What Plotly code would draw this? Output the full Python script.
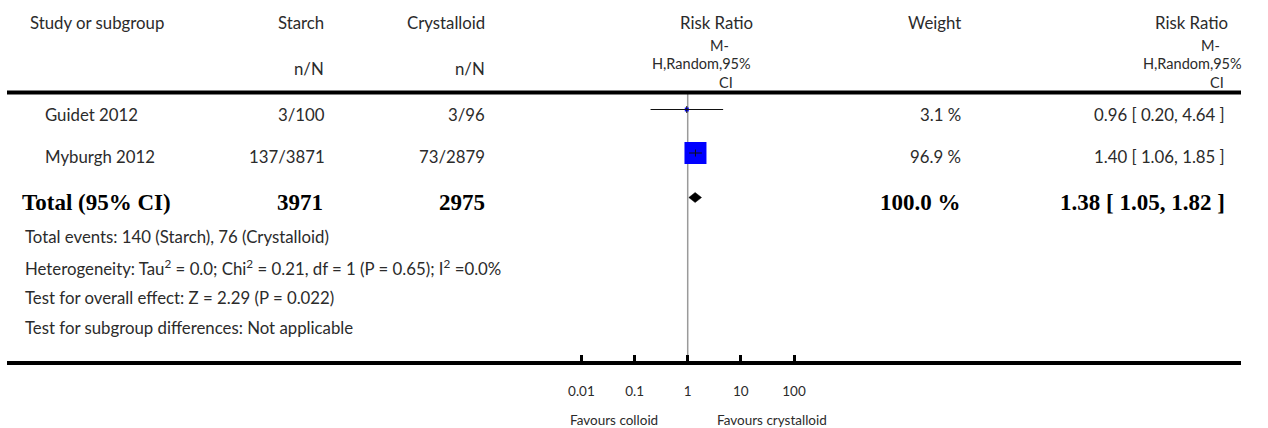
import plotly.graph_objects as go

# ---------------- data ----------------
studies = ["Guidet 2012", "Myburgh 2012"]
starch_events = [3, 137]
starch_total = [100, 3871]
cryst_events = [3, 73]
cryst_total = [96, 2879]
rr = [0.96, 1.40]
rr_low = [0.20, 1.06]
rr_high = [4.64, 1.85]
weights = [3.1, 96.9]

total_label = "Total (95% CI)"
total_starch = 3971
total_cryst = 2975
total_weight = 100.0
total_rr = 1.38
total_low = 1.05
total_high = 1.82

summary_lines = [
    "Total events: 140 (Starch), 76 (Crystalloid)",
    "Heterogeneity: Tau<sup>2</sup> = 0.0; Chi<sup>2</sup> = 0.21, df = 1 (P = 0.65); I<sup>2</sup> =0.0%",
    "Test for overall effect: Z = 2.29 (P = 0.022)",
    "Test for subgroup differences: Not applicable",
]

tick_vals = [0.01, 0.1, 1, 10, 100]
tick_text = ["0.01", "0.1", "1", "10", "100"]
favours_left = "Favours colloid"
favours_right = "Favours crystalloid"

# ---------------- layout geometry (pixels) ----------------
W, H = 1268, 428
ML, MR, MT, MB = 7, 27, 0, 67
PW = W - ML - MR
PH = H - MT - MB
x_one = 687.7          # pixel position of RR = 1
px_per_decade = 53.15
log_lo = -(x_one - ML) / px_per_decade
log_hi = log_lo + PW / px_per_decade

mark_rows = [109.5, 153.0]
mark_total = 197.5
text_rows = [114, 156]
text_total = 202
summary_y = [237, 267, 297, 327]
top_line_y = 92.5

def xp(px):
    return (px - ML) / PW

def yp(py):
    return (PH - (py - MT)) / PH

TXT = dict(family="Lato", size=16.8, color="#2b2b2b")
SUB = dict(family="Lato", size=14.5, color="#2b2b2b")
BOLD = dict(family="Liberation Serif", size=23, color="#000000", weight="bold")
SMALL = dict(family="Lato", size=13.5, color="#2b2b2b")

fig = go.Figure()

# reference line at RR = 1
fig.add_trace(go.Scatter(x=[1, 1], y=[top_line_y, PH], mode="lines",
                         line=dict(color="#9a9a9a", width=1.5),
                         hoverinfo="skip", showlegend=False))

# squares sized by weight
max_w = max(weights)
sizes = [22 * (w / max_w) ** 0.5 for w in weights]
fig.add_trace(go.Scatter(x=rr, y=mark_rows, mode="markers",
                         marker=dict(symbol="square", size=sizes, color="#0000ff",
                                     opacity=1, line=dict(width=0)),
                         hoverinfo="skip", showlegend=False))

# confidence intervals
for lo, hi, y in zip(rr_low, rr_high, mark_rows):
    fig.add_trace(go.Scatter(x=[lo, hi], y=[y, y], mode="lines",
                             line=dict(color="#111111", width=1),
                             hoverinfo="skip", showlegend=False))
fig.add_trace(go.Scatter(x=rr, y=mark_rows, mode="markers",
                         marker=dict(symbol="line-ns", size=5, opacity=1,
                                     line=dict(color="#111111", width=1)),
                         hoverinfo="skip", showlegend=False))

# pooled diamond
dh = 5
fig.add_trace(go.Scatter(
    x=[total_low, total_rr, total_high, total_rr, total_low],
    y=[mark_total, mark_total - dh, mark_total, mark_total + dh, mark_total],
    mode="lines", fill="toself", fillcolor="#000000",
    line=dict(color="#000000", width=0.5),
    hoverinfo="skip", showlegend=False))

ann = []

def add(text, px, py, anchor="left", font=TXT):
    ann.append(dict(text=text, x=xp(px), y=yp(py), xref="paper", yref="paper",
                    xanchor=anchor, yanchor="middle", showarrow=False, font=font))

# headers
add("Study or subgroup", 28, 23)
add("Starch", 326, 23, "right")
add("n/N", 326, 69, "right")
add("Crystalloid", 487, 23, "right")
add("n/N", 487, 69, "right")
add("Risk Ratio", 716, 23, "center")
add("M-", 719, 45.5, "center", SUB)
add("H,Random,95%", 701, 64, "center", SUB)
add("CI", 725.5, 82.5, "center", SUB)
add("Weight", 963, 23, "right")
add("Risk Ratio", 1191, 23, "center")
add("M-", 1210, 45.5, "center", SUB)
add("H,Random,95%", 1192, 64, "center", SUB)
add("CI", 1216.5, 82.5, "center", SUB)

# study rows
for i, name in enumerate(studies):
    y = text_rows[i]
    add(name, 43, y)
    add(f"{starch_events[i]}/{starch_total[i]}", 327, y, "right")
    add(f"{cryst_events[i]}/{cryst_total[i]}", 487, y, "right")
    add(f"{weights[i]:.1f} %", 963, y, "right")
    add(f"{rr[i]:.2f} [ {rr_low[i]:.2f}, {rr_high[i]:.2f} ]", 1227, y, "right")

# total row
add(total_label, 20, text_total, font=BOLD)
add(f"{total_starch}", 325, text_total, "right", BOLD)
add(f"{total_cryst}", 487, text_total, "right", BOLD)
add(f"{total_weight:.1f} %", 963, text_total, "right", BOLD)
add(f"{total_rr:.2f} [ {total_low:.2f}, {total_high:.2f} ]", 1227, text_total, "right", BOLD)

for line, y in zip(summary_lines, summary_y):
    add(line, 23, y)

add(favours_left, 568, 420, "left", SMALL)
add(favours_right, 715, 420, "left", SMALL)

fig.update_layout(
    width=W, height=H,
    margin=dict(l=ML, r=MR, t=MT, b=MB, pad=0, autoexpand=False),
    paper_bgcolor="white", plot_bgcolor="white",
    showlegend=False,
    annotations=ann,
    shapes=[dict(type="line", xref="paper", yref="y", x0=0, x1=1,
                 y0=top_line_y, y1=top_line_y,
                 line=dict(color="black", width=4))],
    xaxis=dict(type="log", range=[log_lo, log_hi], showgrid=False, zeroline=False,
               showline=True, linecolor="black", linewidth=3.5,
               ticks="inside", ticklen=6, tickwidth=2.5, tickcolor="black",
               tickvals=tick_vals, ticktext=tick_text,
               tickfont=SMALL, ticklabelstandoff=15, fixedrange=True),
    yaxis=dict(range=[PH, 0], visible=False, showgrid=False, zeroline=False,
               fixedrange=True),
)

fig.write_html("out.html")
